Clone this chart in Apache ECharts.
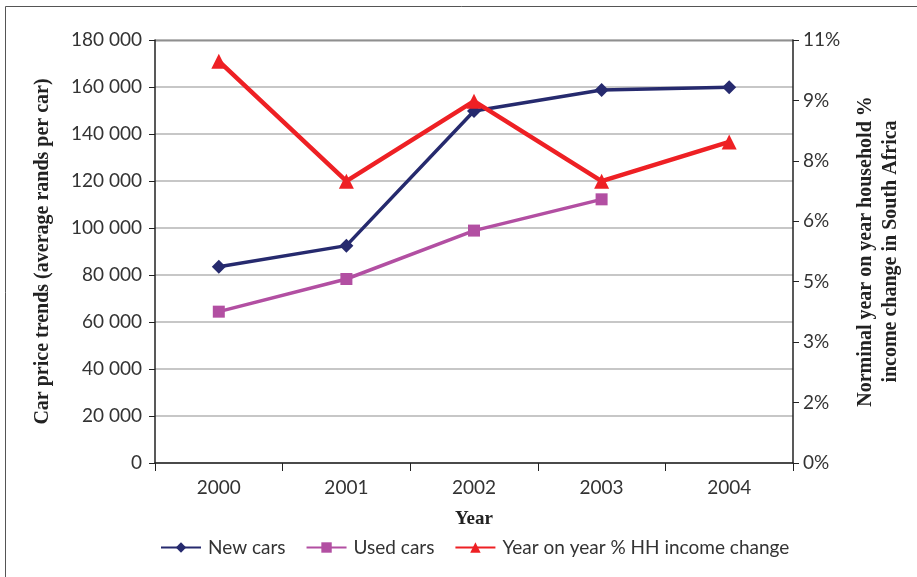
<!DOCTYPE html>
<html>
<head>
<meta charset="utf-8">
<script src="https://cdn.jsdelivr.net/npm/echarts@6/dist/echarts.min.js"></script>
<style>
  html, body { margin: 0; padding: 0; background: #fff; }
  #chart { width: 917px; height: 577px; }
</style>
</head>
<body>
<div id="chart"></div>
<script>
const years = ["2000", "2001", "2002", "2003", "2004"];
const newCars = [83500, 92500, 149800, 158700, 159900];
const usedCars = [64400, 78300, 98900, 112200];
const incomeChange = [10.45, 7.33, 9.41, 7.33, 8.35];

const labelFont = "Lato";
const titleFont = "Liberation Serif";

var chart = echarts.init(document.getElementById("chart"));
var option = {
  animation: false,
  graphic: [{
    type: "rect",
    shape: { x: 5.5, y: 6.5, width: 1000, height: 1000 },
    style: { fill: "none", stroke: "#555", lineWidth: 1 }
  }, {
    type: "line",
    shape: { x1: 155, y1: 40.5, x2: 793, y2: 40.5 },
    style: { stroke: "#222", lineWidth: 1.5 }
  }],
  grid: { left: 155, right: 124, top: 40, bottom: 114 },
  legend: {
    top: 533,
    left: 155,
    itemWidth: 40,
    itemHeight: 13,
    itemGap: 20,
    textStyle: { fontFamily: labelFont, fontSize: 19, color: "#333", padding: [0, 0, 0, 2] },
    data: ["New cars", "Used cars", "Year on year % HH income change"]
  },
  xAxis: {
    type: "category",
    data: years,
    name: "Year",
    nameLocation: "middle",
    nameGap: 47,
    nameTextStyle: { fontFamily: titleFont, fontWeight: "bold", fontSize: 19, color: "#222" },
    axisLine: { lineStyle: { color: "#222", width: 1.5 } },
    axisTick: { show: true, length: 8, lineStyle: { color: "#222" } },
    axisLabel: { fontFamily: labelFont, fontSize: 19, color: "#333", margin: 15 }
  },
  yAxis: [{
    type: "value",
    min: 0,
    max: 180000,
    interval: 20000,
    name: "Car price trends (average rands per car)",
    nameLocation: "middle",
    nameGap: 102,
    nameTextStyle: { fontFamily: titleFont, fontWeight: "bold", fontSize: 20, color: "#222" },
    axisLine: { show: true, lineStyle: { color: "#222", width: 1.5 } },
    axisTick: { show: true, length: 6, lineStyle: { color: "#222" } },
    axisLabel: {
      fontFamily: labelFont, fontSize: 19, color: "#333", margin: 13,
      formatter: function (v) { return v === 0 ? "0" : String(v / 1000) + " 000"; }
    },
    splitLine: { show: true, lineStyle: { color: "#b5b5b5", width: 1.5 } }
  }, {
    type: "value",
    min: 0,
    max: 11,
    interval: 11 / 7,
    name: "Norminal year on year household %\nincome change in South Africa",
    nameLocation: "middle",
    nameGap: 60,
    nameRotate: 90,
    nameTextStyle: { fontFamily: titleFont, fontWeight: "bold", fontSize: 20, color: "#222", lineHeight: 25 },
    axisLine: { show: true, lineStyle: { color: "#222", width: 1.5 } },
    axisTick: { show: true, length: 6, lineStyle: { color: "#222" } },
    axisLabel: {
      fontFamily: labelFont, fontSize: 19, color: "#333", margin: 10,
      formatter: function (v) { return Math.round(v) + "%"; }
    },
    splitLine: { show: false }
  }],
  series: [{
    name: "New cars",
    type: "line",
    data: newCars,
    symbol: "diamond",
    symbolSize: 14,
    color: "#262a6e",
    lineStyle: { width: 3.5 }
  }, {
    name: "Used cars",
    type: "line",
    data: usedCars,
    symbol: "rect",
    symbolSize: 12,
    color: "#b24fa2",
    lineStyle: { width: 3.5 }
  }, {
    name: "Year on year % HH income change",
    type: "line",
    yAxisIndex: 1,
    data: incomeChange,
    symbol: "triangle",
    symbolSize: 15,
    color: "#ee2024",
    lineStyle: { width: 4.5 }
  }]
};
chart.setOption(option);
</script>
</body>
</html>
